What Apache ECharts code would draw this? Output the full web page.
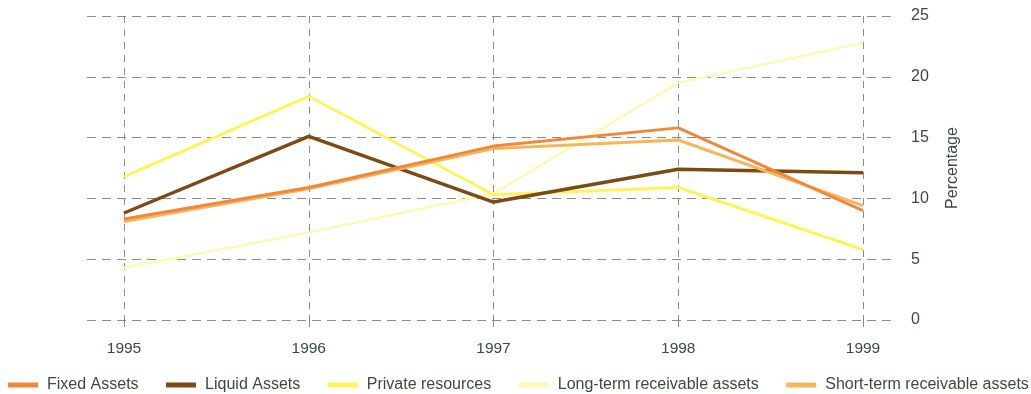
<!DOCTYPE html>
<html>
<head>
<meta charset="utf-8">
<script src="https://cdn.jsdelivr.net/npm/echarts@6/dist/echarts.min.js"></script>
<style>
html,body{margin:0;padding:0;background:#fff;}
#chart{width:1031px;height:394px;}
</style>
</head>
<body>
<div id="chart"></div>
<script>
const years = ['1995', '1996', '1997', '1998', '1999'];
const seriesNames = ['Fixed Assets', 'Liquid Assets', 'Private resources', 'Long-term receivable assets', 'Short-term receivable assets'];
const fixedAssets = [8.3, 10.9, 14.3, 15.8, 9.0];
const liquidAssets = [8.8, 15.1, 9.7, 12.4, 12.1];
const privateResources = [11.8, 18.4, 10.3, 10.9, 5.8];
const longTermReceivable = [4.3, 7.2, 10.4, 19.5, 22.8];
const shortTermReceivable = [8.1, 10.8, 14.1, 14.8, 9.4];
const yTicks = [0, 25, 5];
const yAxisName = 'Percentage';

const colors = ['#f0883a', '#7b4b16', '#fff35c', '#fff8b8', '#f7b55c'];
const widths = [3, 3.5, 3, 2.5, 3];
const dataSets = [fixedAssets, liquidAssets, privateResources, longTermReceivable, shortTermReceivable];
const textColor = '#3b4a3f';
const gridColor = '#8c8c8c';
const font = 'Liberation Sans, Arial, sans-serif';

const chart = echarts.init(document.getElementById('chart'), null, {renderer: 'canvas'});

const order = [3, 2, 1, 4, 0];
const series = order.map(i => ({
  name: seriesNames[i],
  type: 'line',
  xAxisIndex: 1,
  yAxisIndex: 1,
  data: dataSets[i],
  symbol: 'none',
  lineStyle: {color: colors[i], width: widths[i]},
  itemStyle: {color: colors[i]},
  z: 3
}));

chart.setOption({
  animation: false,
  color: colors,
  textStyle: {fontFamily: font},
  grid: [
    {left: 87, right: 139, top: 16, bottom: 74},
    {left: 124, right: 168, top: 16, bottom: 74}
  ],
  legend: {
    data: seriesNames,
    left: 8,
    top: 377,
    width: 1060,
    padding: 0,
    icon: 'rect',
    itemWidth: 30,
    itemHeight: 5,
    itemGap: 27.5,
    textStyle: {fontSize: 16, color: textColor, fontFamily: font, padding: [0, 0, 0, 4]}
  },
  xAxis: [
    {gridIndex: 0, type: 'value', min: 0, max: 1, show: false},
    {
      gridIndex: 1, type: 'category', data: years, boundaryGap: false,
      axisLine: {show: false},
      axisTick: {show: true, length: 7, lineStyle: {color: gridColor, type: [7, 6]}},
      axisLabel: {color: textColor, fontSize: 15.5, margin: 21, fontFamily: font},
      splitLine: {show: true, lineStyle: {color: gridColor, type: [7, 6], width: 1}}
    }
  ],
  yAxis: [
    {
      gridIndex: 0, type: 'value', position: 'right',
      min: yTicks[0], max: yTicks[1], interval: yTicks[2],
      axisLine: {show: false}, axisTick: {show: false},
      axisLabel: {color: textColor, fontSize: 16, margin: 19, fontFamily: font},
      splitLine: {show: true, lineStyle: {color: gridColor, type: [9, 6], width: 1}},
      name: yAxisName, nameLocation: 'middle', nameRotate: 90, nameGap: 53,
      nameTextStyle: {color: textColor, fontSize: 16, fontFamily: font}
    },
    {
      gridIndex: 1, type: 'value', min: yTicks[0], max: yTicks[1], interval: yTicks[2],
      show: false, splitLine: {show: false}
    }
  ],
  series: series
});
</script>
</body>
</html>
